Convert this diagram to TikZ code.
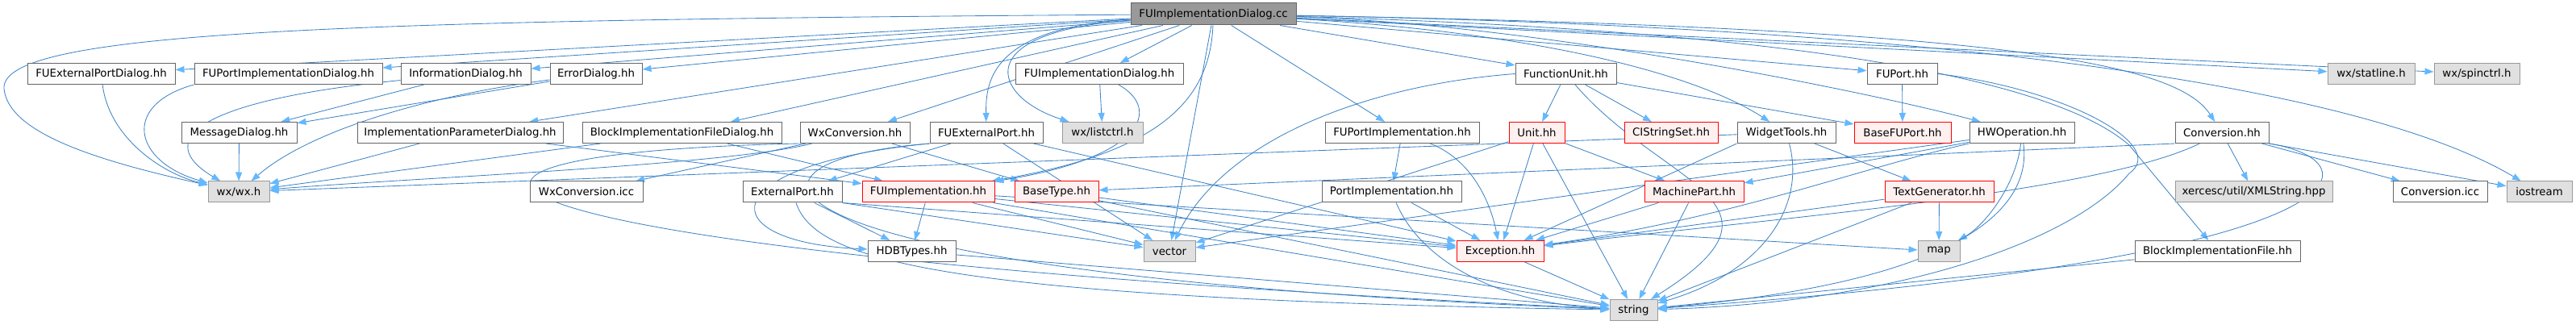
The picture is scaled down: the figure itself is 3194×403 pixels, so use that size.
\documentclass[tikz,border=0pt]{standalone}
\usepackage{fontspec}
\newfontfamily\dejavu{DejaVu Sans}
\usetikzlibrary{arrows.meta, backgrounds}

\definecolor{edgeblue}{HTML}{3F84C6}
\definecolor{arrowblue}{HTML}{63B8FF}
\definecolor{nodeborder}{HTML}{666666}
\definecolor{nodefill}{HTML}{FBFCFB}
\definecolor{sysborder}{HTML}{999999}
\definecolor{sysfill}{HTML}{E0E0E0}
\definecolor{truncfill}{HTML}{FFF0F0}
\definecolor{rootfill}{HTML}{999999}

\begin{document}
\begin{tikzpicture}[
  x=1pt, y=-1pt,
  font=\dejavu\fontsize{13.3}{16}\selectfont,
  file/.style={
    draw=nodeborder, fill=nodefill, line width=1pt, inner sep=0pt,
    minimum height=26pt,
  },
  sys/.style={file, draw=sysborder, fill=sysfill},
  trunc/.style={file, draw=red, fill=truncfill},
  rootfile/.style={file, fill=rootfill, minimum height=27pt},
  dep/.style={-{Triangle[length=11pt, width=8pt, color=arrowblue]},
    draw=edgeblue, line width=0.85pt},
]
\useasboundingbox (0,0) rectangle (3194,403);

% ---- The file whose include graph is drawn --------------------------------
\node[rootfile, minimum width=205pt] (root) at (1504.5, 17.5) {FUImplementationDialog.cc};

% ---- Row 1 -----------------------------------------------------------------
\node[file, minimum width=183pt] (fuepd)    at ( 125.5, 91.5) {FUExternalPortDialog.hh};
\node[file, minimum width=233pt] (fupid)    at ( 357.5, 91.5) {FUPortImplementationDialog.hh};
\node[file, minimum width=161pt] (infod)    at ( 577.5, 91.5) {InformationDialog.hh};
\node[file, minimum width=114pt] (errd)     at ( 739,   91.5) {ErrorDialog.hh};
\node[file, minimum width=208pt] (fuidh)    at (1363,   91.5) {FUImplementationDialog.hh};
\node[file, minimum width=125pt] (fu)       at (1941.5, 91.5) {FunctionUnit.hh};
\node[file, minimum width=87pt]  (fuport)   at (2358.5, 91.5) {FUPort.hh};
\node[sys,  minimum width=108pt] (statline) at (2940,   91.5) {wx/statline.h};
\node[sys,  minimum width=106pt] (spinctrl) at (3071,   91.5) {wx/spinctrl.h};

% ---- Row 2 -----------------------------------------------------------------
\node[file,  minimum width=143pt] (msgd)     at ( 296.5, 164.5) {MessageDialog.hh};
\node[file,  minimum width=255pt] (ipd)      at ( 570.5, 164.5) {ImplementationParameterDialog.hh};
\node[file,  minimum width=247pt] (bifd)     at ( 845.5, 164.5) {BlockImplementationFileDialog.hh};
\node[file,  minimum width=136pt] (wxconv)   at (1060,   164.5) {WxConversion.hh};
\node[file,  minimum width=140pt] (fuep)     at (1223,   164.5) {FUExternalPort.hh};
\node[sys,   minimum width=100pt] (listctrl) at (1367,   164.5) {wx/listctrl.h};
\node[file,  minimum width=191pt] (fupi)     at (1738.5, 164.5) {FUPortImplementation.hh};
\node[trunc, minimum width=69pt]  (unit)     at (1905.5, 164.5) {Unit.hh};
\node[trunc, minimum width=116pt] (cis)      at (2072,   164.5) {CIStringSet.hh};
\node[file,  minimum width=122pt] (wt)       at (2215,   164.5) {WidgetTools.hh};
\node[trunc, minimum width=120pt] (bfp)      at (2359,   164.5) {BaseFUPort.hh};
\node[file,  minimum width=130pt] (hwop)     at (2507,   164.5) {HWOperation.hh};
\node[file,  minimum width=116pt] (conv)     at (2755,   164.5) {Conversion.hh};

% ---- Row 3 -----------------------------------------------------------------
\node[sys,   minimum width=76pt]  (wxh)      at ( 296,   238) {wx/wx.h};
\node[file,  minimum width=140pt] (wxicc)    at ( 727,   238) {WxConversion.icc};
\node[file,  minimum width=123pt] (extp)     at ( 982.5, 238) {ExternalPort.hh};
\node[trunc, minimum width=164pt] (fuimpl)   at (1151,   238) {FUImplementation.hh};
\node[trunc, minimum width=104pt] (basetype) at (1310,   238) {BaseType.hh};
\node[file,  minimum width=173pt] (porti)    at (1725.5, 238) {PortImplementation.hh};
\node[trunc, minimum width=123pt] (mpart)    at (2100.5, 238) {MachinePart.hh};
\node[trunc, minimum width=135pt] (textgen)  at (2404.5, 238) {TextGenerator.hh};
\node[sys,   minimum width=195pt] (xmlstr)   at (2794.5, 238) {xercesc/util/XMLString.hpp};
\node[file,  minimum width=117pt] (convicc)  at (3025.5, 238) {Conversion.icc};
\node[sys,   minimum width=81pt]  (iostream) at (3148.5, 238) {iostream};

% ---- Row 4 and 5 -----------------------------------------------------------
\node[file,  minimum width=109pt] (hdbt)     at (1130.5, 311.5) {HDBTypes.hh};
\node[sys,   minimum width=64pt]  (vector)   at (1450,   311.5) {vector};
\node[trunc, minimum width=108pt] (exc)      at (1860,   311.5) {Exception.hh};
\node[sys,   minimum width=52pt]  (map)      at (2404,   311.5) {map};
\node[file,  minimum width=205pt] (bif)      at (2749.5, 311.5) {BlockImplementationFile.hh};
\node[sys,   minimum width=59pt]  (string)   at (2025.5, 384.5) {string};

\begin{scope}[on background layer]
% ---- Includes of the .cc file ----------------------------------------------
\foreach \dst in {fuepd, fupid, infod, errd, ipd, bifd, wxconv, fuidh, vector,
                  fupi, fu, fuport, statline, spinctrl}
  \draw[dep] (root) -- (\dst);
\draw[dep] (root) .. controls (400,25) and (0,40) .. (5,110)
                  .. controls (10,160) and (100,195) .. (wxh);
\draw[dep] (root) .. controls (1230,35) and (1222,100) .. (fuep);
\draw[dep] (root) .. controls (1200,40) and (1230,120) .. (listctrl);
\draw[dep] (root) .. controls (1500,130) and (1430,190) .. (fuimpl);
\draw[dep] (root) .. controls (1900,40) and (2100,90) .. (wt);
\draw[dep] (root) .. controls (1900,30) and (2300,110) .. (hwop);
\draw[dep] (root) .. controls (2500,35) and (2700,80) .. (conv);
\draw[dep] (root) .. controls (2300,40) and (2560,110) .. (2640,180) -- (bif);
\draw[dep] (root) .. controls (2500,35) and (2950,120) .. (iostream);

% ---- Includes of the headers -----------------------------------------------
\foreach \src/\dst in {infod/msgd, errd/msgd, msgd/wxh, ipd/wxh, bifd/wxh,
    wt/wxh, ipd/fuimpl, bifd/fuimpl, wxconv/wxicc, wxconv/basetype,
    fuep/extp, fuep/vector, fuep/exc, extp/hdbt, fuimpl/hdbt,
    fuimpl/vector, fuimpl/string, fuimpl/exc, fuimpl/map, hdbt/string,
    basetype/exc, basetype/string, fuidh/listctrl, fupi/porti, porti/exc,
    fu/unit, fu/cis, fu/bfp, unit/exc, unit/string, unit/mpart, unit/vector,
    mpart/exc, mpart/string, wt/textgen, textgen/map, textgen/string,
    textgen/exc, hwop/mpart, hwop/vector, fuport/bfp, conv/xmlstr,
    conv/convicc, bif/string, exc/string}
  \draw[dep] (\src) -- (\dst);
\draw[dep] (extp.south east) -- (vector);
\draw[dep] (extp.south east) -- (exc);
\draw[dep] (wt.south west) -- (exc);
\draw[dep] (conv.south west) -- (basetype);
\draw[dep] (conv.south east) -- (iostream);

% ---- Curved routes ---------------------------------------------------------
\draw[dep] (fuepd) .. controls (135,170) and (200,215) .. (wxh);
\draw[dep] (fupid.south west) .. controls (150,130) and (165,200) .. (wxh);
\draw[dep] (infod) .. controls (240,125) and (190,175) .. (wxh);
\draw[dep] (errd) .. controls (520,120) and (380,165) .. (wxh);
\draw[dep] (wxconv) .. controls (900,205) and (520,220) .. (wxh);
\draw[dep] (wxconv.south west) .. controls (420,190) and (480,310) .. (string);
\draw[dep] (fuep.south west) .. controls (880,205) and (880,300) .. (hdbt);
\draw[dep] (fuep.south west) .. controls (870,200) and (900,340) .. (string);
\draw[dep] (extp) .. controls (1010,320) and (1150,370) .. (string);
\draw[dep] (fuidh) .. controls (1440,135) and (1420,195) .. (fuimpl);
\draw[dep] (fu.west) .. controls (1700,105) and (1520,170) .. (vector);
\draw[dep] (fu) .. controls (2060,230) and (2240,250) .. (string);
\draw[dep] (fupi) .. controls (1830,200) and (1850,260) .. (exc);
\draw[dep] (porti) .. controls (1760,320) and (1850,375) .. (string);
\draw[dep] (wt) .. controls (2240,260) and (2180,340) .. (string);
\draw[dep] (hwop) .. controls (2500,230) and (2460,280) .. (map);
\draw[dep] (hwop) .. controls (2520,260) and (2430,350) .. (string);
\draw[dep] (hwop.south west) .. controls (2300,210) and (2150,270) .. (exc);
\draw[dep] (fuport.east) .. controls (2560,110) and (2690,180) .. (2640,215)
                         .. controls (2570,300) and (2350,375) .. (string);
\draw[dep] (conv) .. controls (2600,240) and (2200,270) .. (exc);
\draw[dep] (conv.south east) .. controls (2950,200) and (2950,320) .. (string);
\end{scope}
\end{tikzpicture}
\end{document}
